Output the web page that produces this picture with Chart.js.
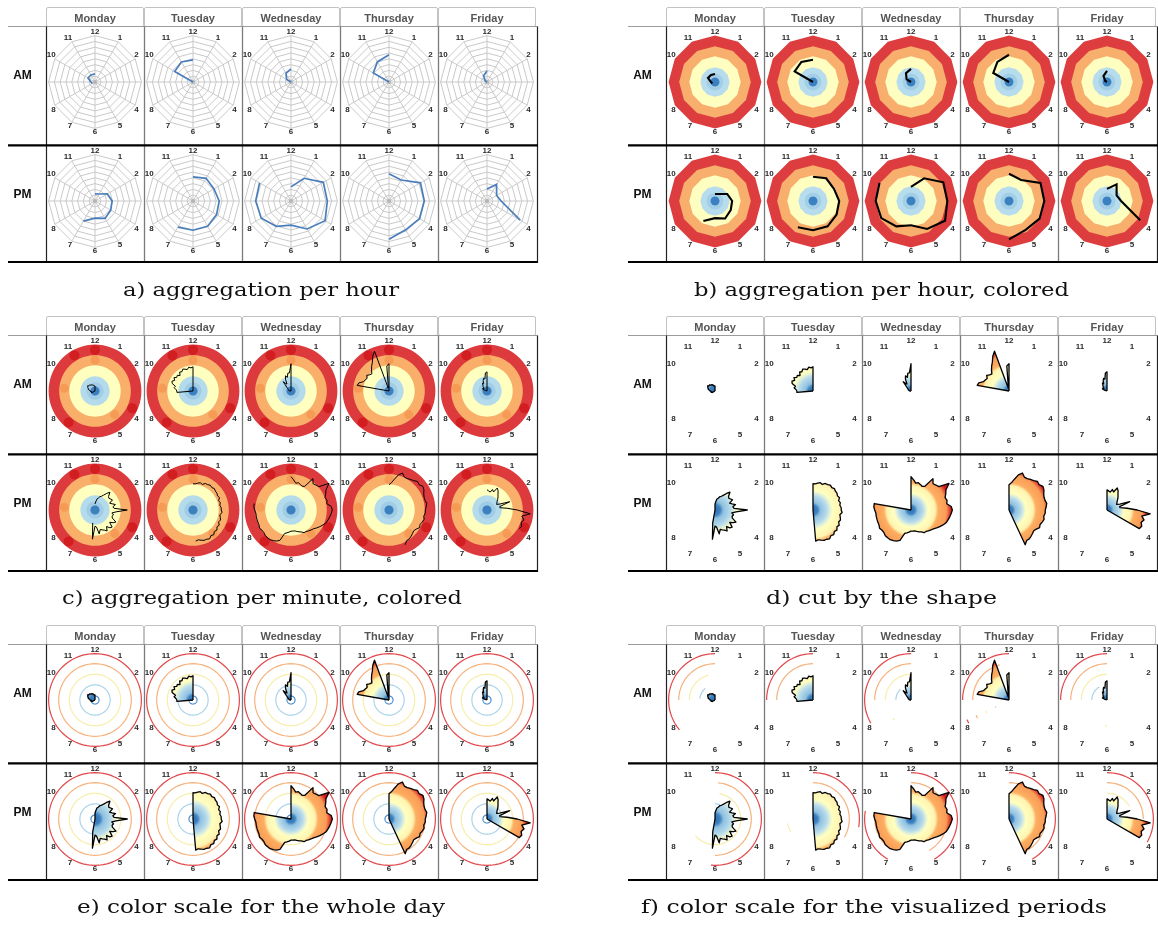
<!DOCTYPE html>
<html>
<head>
<meta charset="utf-8">
<script src="https://cdn.jsdelivr.net/npm/chart.js@4.4.1/dist/chart.umd.min.js"></script>
<style>
  html, body { margin: 0; padding: 0; background: #fff; }
  #page { position: relative; width: 1158px; height: 925px; overflow: hidden; background: #fff; }
  #page canvas { position: absolute; }
  #frame { position: absolute; left: 0; top: 0; pointer-events: none; }
  #frame .day { font: bold 11px 'Liberation Sans', Arial, sans-serif; fill: #555; }
  #frame .half { font: bold 12px 'Liberation Sans', Arial, sans-serif; fill: #111; }
  #frame .cap { font: 18.5px 'DejaVu Serif', serif; fill: #111; }
</style>
</head>
<body>
<div id="page"></div>
<script>
// ---------- categories and ticks ----------
const days = ['Monday', 'Tuesday', 'Wednesday', 'Thursday', 'Friday'];
const halves = ['AM', 'PM'];
const hourTicks = ['12', '1', '2', '3', '4', '5', '6', '7', '8', '9', '10', '11'];
const hiddenHours = ['3', '9'];           // these two fall outside the narrow cells
const rMax = 46;                          // value at the outer ring of every clock face
const minuteStep = 10;                    // minutes per slot of the detailed series
const slotsPerHalf = 12 * 60 / minuteStep;
const minuteTicks = Array.from({ length: slotsPerHalf }, (_, i) =>
  hourTicks[Math.floor(i * minuteStep / 60)] + ':' + String((i * minuteStep) % 60).padStart(2, '0'));

// ---------- hourly totals (index 0 = 12 o'clock) ----------
const hourMonAM = [8, null, null, null, null, null, null, null, 3, 4, 8, 8];
const hourTueAM = [22, null, null, null, null, null, null, null, null, 0, 21, 23];
const hourWedAM = [13, null, null, null, null, null, null, null, null, 0, 5, 10];
const hourThuAM = [27, null, null, null, null, null, null, null, null, 0, 18, 23];
const hourFriAM = [11, null, null, null, null, null, null, null, null, 0, 2, 7];
const hourMonPM = [7, 8, 14, 17, 18, 20, 17, 23, null, null, null, null];
const hourTuePM = [24, 26, 24, 26, 27, 29, 29, 30, null, null, null, null];
const hourWedPM = [14, 26, 37, 36, 39, 32, 24, 29, 34, 35, 36, null];
const hourThuPM = [27, 24, 36, 35, 35, 33, 38, null, null, null, null, null];
const hourFriPM = [12, 19, 11, 14, 38, null, null, null, null, null, null, null];

// ---------- 10-minute series: first slot time + consecutive values ----------
const minMonAMFrom = '7:50';
const minMonAM = [0, 3, 3, 4, 3, 4, 4, 5, 5, 6, 7, 7, 8, 8, 9, 8, 8, 8, 7, 7, 7, 6, 6, 5, 5, 5, 0];
const minTueAMFrom = '8:40';
const minTueAM = [0, 16, 16, 17, 19, 18, 22, 23, 21, 23, 21, 22, 20, 23, 22, 24, 23, 22, 24, 23, 24, 0];
const minWedAMFrom = '8:50';
const minWedAM = [0, 1, 1, 2, 2, 2, 3, 3, 4, 5, 7, 12, 9, 8, 13, 16, 14, 18, 18, 27, 0];
const minThuAMFrom = '9:10';
const minThuAM = [0, 32, 31, 27, 26, 25, 27, 25, 24, 27, 30, 33, 38, 42, 3, 4, 25, 27, 0];
const minFriAMFrom = '9:30';
const minFriAM = [0, 2, 5, 4, 5, 4, 5, 6, 7, 9, 8, 11, 13, 12, 18, 19, 0];
const minMonPMFrom = '11:50';
const minMonPM = [0, 6, 8, 11, 12, 14, 15, 17, 20, 23, 19, 18, 19, 20, 16, 18, 21, 18, 19,
  32, 21, 17, 19, 18, 19, 24, 22, 19, 24, 23, 20, 24, 22, 21, 20, 24, 17, 16, 29, 13, 0];
const minTuePMFrom = '11:50';
const minTuePM = [0, 26, 26, 27, 28, 27, 29, 29, 30, 29, 30, 29, 29, 28, 29, 27, 28, 27, 28,
  28, 29, 27, 28, 29, 28, 30, 29, 31, 30, 32, 31, 33, 32, 32, 31, 30, 31, 0];
const minWedPMFrom = '11:50';
const minWedPM = [0, 33, 30, 27, 28, 27, 26, 27, 38, 34, 35, 36, 46, 40, 38, 36, 37, 36, 40,
  41, 40, 39, 38, 37, 35, 33, 31, 29, 28, 27, 26, 26, 24, 23, 22, 21, 21, 21, 22, 23, 24, 32, 34,
  35, 36, 36, 36, 35, 35, 36, 35, 35, 35, 35, 35, 36, 37, 37, 0];
const minThuPMFrom = '11:50';
const minThuPM = [0, 25, 27, 31, 36, 39, 36, 36, 37, 38, 40, 39, 41, 40, 38, 37, 37, 38, 37,
  36, 36, 35, 36, 35, 34, 35, 33, 32, 33, 34, 35, 35, 38, 0];
const minFriPMFrom = '11:50';
const minFriPM = [0, 20, 19, 18, 21, 19, 24, 22, 19, 17, 15, 13, 12, 11, 14, 24, 13, 13, 20,
  30, 43, 35, 38, 36, 38, 37, 0];

// ---------- colour scale ----------
const bandEdges = [46, 35.5, 25.5, 14.5, 8.5, 4.5];
const bandColorsHour = ['#dd3d3f', '#f8af6d', '#fefec1', '#b7dced', '#a3cfe6', '#3b80c1'];
const bandColorsMinute = ['#dc3a3c', '#f9ae69', '#ffffbf', '#b4dbec', '#a0cce5', '#3c80c0'];
const redSpotTimes = ['12:00', '11:00', '3:50', '7:20'];
const orangeSpotTimes = ['12:00', '9:10', '4:40'];
const ringLevels = [46, 36, 25.5, 15, 4];
const ringColors = ['#e2474a', '#f6b27c', '#f6eeaa', '#a9d3ea', '#4b8dcc'];
const shapeStops = [[0, '#2c6fb2'], [4, '#3f83c2'], [6.5, '#8fc0df'], [12, '#b7dbec'], [15, '#e6f2d6'],
  [17, '#ffffbf'], [24, '#fff3b0'], [27, '#fdae61'], [35, '#f99d57'], [40, '#d7191c'], [46, '#c8161a']];
// each day keeps its own colour range
const dayColorStretch = [1.3, 1.15, 1, 1, 1];

// ring arcs shown for the visualized periods: [ring, from, to]
const arcsMonAM = [[0, '7:40', '12:00'], [1, '9:00', '12:00'], [2, '9:00', '11:30'], [3, '9:10', '10:40']];
const arcsTueAM = [[0, '9:00', '12:00'], [1, '9:00', '12:00']];
const arcsWedAM = [[0, '8:00', '12:00'], [1, '9:00', '12:00'], [2, '9:00', '12:00'], [3, '9:00', '10:30'], [2, '7:20', '7:30']];
const arcsThuAM = [[0, '9:00', '12:00'], [1, '9:00', '11:30'], [0, '8:00', '8:10'], [1, '8:00', '8:10'], [2, '8:00', '8:10'], [3, '8:00', '8:10']];
const arcsFriAM = [[0, '9:00', '12:00'], [1, '9:00', '12:00'], [2, '9:00', '12:00'], [3, '9:00', '11:00'], [2, '6:00', '6:10']];
const arcsMonPM = [[0, '12:00', '6:10'], [1, '12:10', '6:00'], [2, '12:20', '7:40'], [3, '12:00', '12:40']];
const arcsTuePM = [[0, '12:00', '3:20'], [1, '12:00', '4:00'], [2, '8:00', '8:40']];
const arcsWedPM = [[0, '12:00', '5:00'], [0, '7:00', '9:20'], [1, '12:00', '5:00'], [1, '7:30', '9:20']];
const arcsThuPM = [[0, '12:00', '5:00'], [1, '12:00', '5:00']];
const arcsFriPM = [[0, '12:00', '4:00'], [1, '12:00', '3:00'], [2, '12:00', '2:00'], [3, '12:00', '1:00']];

// ---------- helpers ----------
function slotOf(t) {
  const [h, m] = t.split(':').map(Number);
  return ((h % 12) * 60 + m) / minuteStep;
}
function spread(from, values) {
  const out = new Array(slotsPerHalf).fill(null);
  const s = slotOf(from);
  values.forEach((v, k) => { out[(s + k) % slotsPerHalf] = v; });
  return out;
}
function levelOver(ranges, level) {
  const out = new Array(slotsPerHalf).fill(null);
  ranges.forEach(([from, to]) => {
    const s = slotOf(from);
    let e = slotOf(to);
    if (e < s) e += slotsPerHalf;
    for (let i = s; i <= e; i++) out[i % slotsPerHalf] = level;
  });
  return out;
}
function spotsAt(times, level) {
  const out = new Array(slotsPerHalf).fill(null);
  times.forEach(t => { out[slotOf(t)] = level; });
  return out;
}

const hourly = {
  AM: [hourMonAM, hourTueAM, hourWedAM, hourThuAM, hourFriAM],
  PM: [hourMonPM, hourTuePM, hourWedPM, hourThuPM, hourFriPM]
};
const minutes = {
  AM: [spread(minMonAMFrom, minMonAM), spread(minTueAMFrom, minTueAM), spread(minWedAMFrom, minWedAM),
       spread(minThuAMFrom, minThuAM), spread(minFriAMFrom, minFriAM)],
  PM: [spread(minMonPMFrom, minMonPM), spread(minTuePMFrom, minTuePM), spread(minWedPMFrom, minWedPM),
       spread(minThuPMFrom, minThuPM), spread(minFriPMFrom, minFriPM)]
};
const arcs = {
  AM: [arcsMonAM, arcsTueAM, arcsWedAM, arcsThuAM, arcsFriAM],
  PM: [arcsMonPM, arcsTuePM, arcsWedPM, arcsThuPM, arcsFriPM]
};

function hourText(label) {
  const [h, mm] = String(label).split(':');
  if (mm !== undefined && mm !== '00') return '';
  return hiddenHours.includes(h) ? '' : h;
}

function shapeFill(stretch) {
  return function (context) {
    const chart = context.chart;
    const scale = chart.scales.r;
    if (!scale || !chart.chartArea) return 'rgba(0,0,0,0)';
    const R = scale.getDistanceFromCenterForValue(rMax);
    const g = chart.ctx.createRadialGradient(scale.xCenter, scale.yCenter, 0, scale.xCenter, scale.yCenter, R);
    let last = -1;
    shapeStops.forEach(([v, c]) => {
      const off = Math.min(1, v * stretch / rMax);
      if (off > last) { g.addColorStop(off, c); last = off; }
    });
    return g;
  };
}

function band(level, color, n) {
  return { data: new Array(n).fill(level), fill: 'origin', backgroundColor: color,
           borderColor: color, borderWidth: 0 };
}

function cellDatasets(kind, half, d) {
  const out = [];
  if (kind === 'a' || kind === 'b') {
    out.push({ data: hourly[half][d], fill: false, backgroundColor: 'transparent',
               borderColor: kind === 'a' ? '#4a7ebb' : '#000', borderWidth: kind === 'a' ? 1.7 : 2.1 });
    if (kind === 'a') {
      out.push({ data: hourTicks.map((_, i) => (i === 0 ? 0 : null)), showLine: false, fill: false,
                 pointRadius: 2, pointBackgroundColor: '#b5b5b5', pointBorderWidth: 0 });
    } else {
      for (let k = bandEdges.length - 1; k >= 0; k--) out.push(band(bandEdges[k], bandColorsHour[k], hourTicks.length));
    }
    return out;
  }
  const series = minutes[half][d];
  // the plain afternoon line starts and ends away from the hub
  const lineData = (kind === 'c' && half === 'PM') ? series.map(v => (v === 0 ? null : v)) : series;
  out.push({
    data: lineData,
    fill: kind === 'c' ? false : 'origin',
    backgroundColor: kind === 'c' ? 'transparent' : shapeFill(dayColorStretch[d]),
    borderColor: '#000',
    borderWidth: kind === 'c' ? 1 : 1.3,
    borderJoinStyle: 'round'
  });
  if (kind === 'c') {
    out.push({ data: spotsAt(redSpotTimes, (bandEdges[0] + bandEdges[1]) / 2), showLine: false, fill: false,
               pointRadius: 5, pointBackgroundColor: '#d21d21', pointBorderWidth: 0 });
    out.push({ data: spotsAt(orangeSpotTimes, (bandEdges[1] + bandEdges[2]) / 2), showLine: false, fill: false,
               pointRadius: 4.5, pointBackgroundColor: '#f59b55', pointBorderWidth: 0 });
    for (let k = bandEdges.length - 1; k >= 0; k--) out.push(band(bandEdges[k], bandColorsMinute[k], slotsPerHalf));
  } else if (kind === 'e') {
    ringLevels.forEach((lv, k) => out.push({ data: new Array(slotsPerHalf).fill(lv), fill: false,
      borderColor: ringColors[k], borderWidth: 1.2, backgroundColor: 'transparent' }));
  } else if (kind === 'f') {
    [0, 1, 2, 3].forEach(k => {
      const ranges = arcs[half][d].filter(a => a[0] === k).map(a => [a[1], a[2]]);
      if (ranges.length) out.push({ data: levelOver(ranges, ringLevels[k]), fill: false,
        borderColor: ringColors[k], borderWidth: 1.2, backgroundColor: 'transparent' });
    });
  }
  return out;
}

function makeChart(canvas, kind, half, d) {
  const hourlyKind = kind === 'a' || kind === 'b';
  return new Chart(canvas, {
    type: 'radar',
    data: { labels: hourlyKind ? hourTicks : minuteTicks, datasets: cellDatasets(kind, half, d) },
    options: {
      responsive: false,
      animation: false,
      devicePixelRatio: 1,
      events: [],
      plugins: { legend: { display: false }, tooltip: { enabled: false }, colors: { enabled: false } },
      elements: { point: { radius: 0, hoverRadius: 0 }, line: { tension: 0 } },
      scales: {
        r: {
          min: 0, max: rMax,
          ticks: { display: false, stepSize: rMax / 8 },
          grid: { display: kind === 'a', color: '#c9c9c9', lineWidth: 1 },
          angleLines: { display: kind === 'a', color: '#c9c9c9', lineWidth: 1 },
          pointLabels: {
            display: true, padding: -1, color: '#2a2a2a',
            font: { family: 'Liberation Sans', size: 8, weight: 'bold' },
            callback: hourText
          }
        }
      }
    }
  });
}

// ---------- layout ----------
const panels = [
  { kind: 'a', x: 0,   y: 0,   caption: 'a) aggregation per hour',                  cx0: 123, cx1: 399,  base: 296 },
  { kind: 'b', x: 620, y: 0,   caption: 'b) aggregation per hour, colored',         cx0: 694, cx1: 1069, base: 296 },
  { kind: 'c', x: 0,   y: 309, caption: 'c) aggregation per minute, colored',       cx0: 62,  cx1: 462,  base: 604 },
  { kind: 'd', x: 620, y: 309, caption: 'd) cut by the shape',                      cx0: 766, cx1: 997,  base: 604 },
  { kind: 'e', x: 0,   y: 618, caption: 'e) color scale for the whole day',         cx0: 77,  cx1: 445,  base: 913 },
  { kind: 'f', x: 620, y: 618, caption: 'f) color scale for the visualized periods', cx0: 641, cx1: 1107, base: 913 }
];
const colEdges = [46, 144.2, 242.4, 340.6, 438.8, 537];
const rowTops = [27, 146];
const cellW = 98, cellH = 110;

const page = document.getElementById('page');
Chart.defaults.font.family = 'Liberation Sans';

panels.forEach(p => {
  halves.forEach((half, hi) => {
    days.forEach((_, d) => {
      const cv = document.createElement('canvas');
      cv.width = cellW; cv.height = cellH;
      cv.style.left = (p.x + Math.floor(colEdges[d])) + 'px';
      cv.style.top = (p.y + rowTops[hi]) + 'px';
      page.appendChild(cv);
      makeChart(cv, p.kind, half, d);
    });
  });
});

// table frame, headings and captions
let svg = '';
panels.forEach(p => {
  const X = v => p.x + v, Y = v => p.y + v;
  days.forEach((name, d) => {
    const x0 = Math.floor(colEdges[d]);
    svg += `<rect x="${X(x0 + 0.5)}" y="${Y(7.5)}" width="97" height="19" rx="1.5" fill="#fff" stroke="#c2c2c2"/>`;
    svg += `<text class="day" x="${X(x0 + 49)}" y="${Y(21.6)}" text-anchor="middle">${name}</text>`;
  });
  svg += `<line x1="${X(8)}" x2="${X(537.5)}" y1="${Y(26.5)}" y2="${Y(26.5)}" stroke="#9c9c9c" stroke-width="1"/>`;
  colEdges.forEach((e, k) => {
    const xx = X(Math.floor(e) + 0.5);
    const edge = k === 0 || k === colEdges.length - 1;
    svg += `<line x1="${xx}" x2="${xx}" y1="${Y(26.5)}" y2="${Y(263)}" stroke="${edge ? '#222' : '#7a7a7a'}" stroke-width="${edge ? 1.2 : 1.3}"/>`;
  });
  svg += `<line x1="${X(8)}" x2="${X(538)}" y1="${Y(145.3)}" y2="${Y(145.3)}" stroke="#000" stroke-width="2.2"/>`;
  svg += `<line x1="${X(8)}" x2="${X(538)}" y1="${Y(262)}" y2="${Y(262)}" stroke="#000" stroke-width="2.2"/>`;
  svg += `<text class="half" x="${X(22.5)}" y="${Y(79.3)}" text-anchor="middle">AM</text>`;
  svg += `<text class="half" x="${X(22.5)}" y="${Y(197.5)}" text-anchor="middle">PM</text>`;
  svg += `<text class="cap" x="${p.cx0}" y="${p.base}" textLength="${p.cx1 - p.cx0}" lengthAdjust="spacingAndGlyphs">${p.caption}</text>`;
});
const frame = document.createElementNS('http://www.w3.org/2000/svg', 'svg');
frame.setAttribute('id', 'frame');
frame.setAttribute('width', '1158');
frame.setAttribute('height', '925');
frame.innerHTML = svg;
page.appendChild(frame);
</script>
</body>
</html>
